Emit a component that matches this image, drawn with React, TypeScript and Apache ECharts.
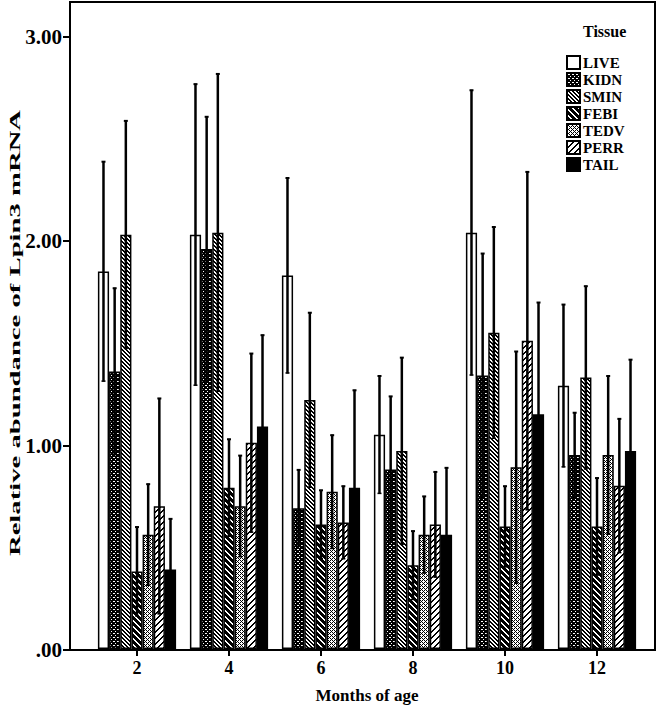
import React, { useEffect, useRef } from 'react';
import * as echarts from 'echarts';

const months = ['2', '4', '6', '8', '10', '12'];
const tissues = ['LIVE', 'KIDN', 'SMIN', 'FEBI', 'TEDV', 'PERR', 'TAIL'];

const liveMean = [1.85, 2.03, 1.83, 1.05, 2.04, 1.29];
const liveErr = [0.54, 0.74, 0.48, 0.29, 0.70, 0.40];
const kidnMean = [1.36, 1.96, 0.69, 0.88, 1.34, 0.95];
const kidnErr = [0.41, 0.65, 0.19, 0.36, 0.60, 0.21];
const sminMean = [2.03, 2.04, 1.22, 0.97, 1.55, 1.33];
const sminErr = [0.56, 0.78, 0.43, 0.46, 0.52, 0.45];
const febiMean = [0.38, 0.79, 0.61, 0.41, 0.60, 0.60];
const febiErr = [0.22, 0.24, 0.17, 0.17, 0.20, 0.24];
const tedvMean = [0.56, 0.70, 0.77, 0.56, 0.89, 0.95];
const tedvErr = [0.25, 0.25, 0.28, 0.19, 0.57, 0.39];
const perrMean = [0.70, 1.01, 0.62, 0.61, 1.51, 0.80];
const perrErr = [0.53, 0.44, 0.18, 0.26, 0.83, 0.33];
const tailMean = [0.39, 1.09, 0.79, 0.56, 1.15, 0.97];
const tailErr = [0.25, 0.45, 0.48, 0.33, 0.55, 0.45];

const yTicks = [0, 1, 2, 3];
const yTitle = 'Relative abundance of Lpin3 mRNA';
const xTitle = 'Months of age';
const legendTitle = 'Tissue';

const means = [liveMean, kidnMean, sminMean, febiMean, tedvMean, perrMean, tailMean];
const errs = [liveErr, kidnErr, sminErr, febiErr, tedvErr, perrErr, tailErr];

const FONT = 'Liberation Serif';
const CAT_GAP = 0.15;

function tile(size: number, on: (x: number, y: number) => boolean): any {
  const c = document.createElement('canvas');
  c.width = size;
  c.height = size;
  const ctx = c.getContext('2d')!;
  ctx.fillStyle = '#ffffff';
  ctx.fillRect(0, 0, size, size);
  ctx.fillStyle = '#000000';
  for (let y = 0; y < size; y++) {
    for (let x = 0; x < size; x++) {
      if (on(x, y)) ctx.fillRect(x, y, 1, 1);
    }
  }
  return { image: c, repeat: 'repeat' };
}

function fills(): any[] {
  const mod = (a: number, n: number) => ((a % n) + n) % n;
  return [
    '#ffffff',
    tile(4, (x, y) => !((x === 1 || x === 2) && y === 1) && !(x === 3 && y === 3)),
    tile(4, (x, y) => mod(x - y, 4) < 2),
    tile(6, (x, y) => mod(x - y, 6) < 4),
    tile(4, (x, y) => (x % 2 === 0 && y % 2 === 0) || (x % 4 === 1 && y % 4 === 1) || (x % 4 === 3 && y % 4 === 3)),
    tile(6, (x, y) => mod(x + y, 6) < 2),
    '#000000',
  ];
}

export default function App() {
  const ref = useRef<HTMLDivElement>(null);

  useEffect(() => {
    if (!ref.current) return;
    const chart = echarts.init(ref.current, undefined, { renderer: 'svg' });
    const f = fills();

    const barSeries = tissues.map((name, s) => ({
      type: 'bar',
      name,
      xAxisIndex: 1,
      yAxisIndex: 1,
      data: means[s],
      barGap: '0%',
      barCategoryGap: CAT_GAP * 100 + '%',
      itemStyle: { color: f[s], borderColor: '#000', borderWidth: 1.5 },
      emphasis: { disabled: true },
      z: 2,
    }));

    const errSeries = tissues.map((name, s) => ({
      type: 'custom',
      name: name + ' error',
      xAxisIndex: 1,
      yAxisIndex: 1,
      z: 5,
      silent: true,
      data: months.map((_, i) => [i, means[s][i], errs[s][i]]),
      renderItem: (params: any, api: any) => {
        const ci = api.value(0);
        const m = api.value(1);
        const e = api.value(2);
        const band = api.size([1, 0])[0];
        const bw = (band * (1 - CAT_GAP)) / tissues.length;
        const off = (s - (tissues.length - 1) / 2) * bw;
        const top = api.coord([ci, m + e]);
        const bot = api.coord([ci, m - e]);
        const x = top[0] + off;
        return {
          type: 'group',
          children: [
            { type: 'line', shape: { x1: x, y1: top[1], x2: x, y2: bot[1] }, style: { stroke: '#000', lineWidth: 2.5 } },
            { type: 'line', shape: { x1: x - 2, y1: top[1] + 0.5, x2: x + 2, y2: top[1] + 0.5 }, style: { stroke: '#000', lineWidth: 2 } },
            { type: 'line', shape: { x1: x - 2, y1: bot[1] - 0.5, x2: x + 2, y2: bot[1] - 0.5 }, style: { stroke: '#000', lineWidth: 1.5 } },
          ],
        };
      },
    }));

    const option: any = {
      animation: false,
      backgroundColor: '#ffffff',
      title: {
        text: legendTitle,
        left: 583,
        top: 23,
        padding: 0,
        textStyle: { fontFamily: FONT, fontWeight: 'bold', fontSize: 16, color: '#000' },
      },
      legend: {
        orient: 'vertical',
        left: 566,
        top: 55,
        padding: 0,
        itemWidth: 13,
        itemHeight: 13,
        itemGap: 2,
        icon: 'rect',
        selectedMode: false,
        data: tissues,
        textStyle: { fontFamily: FONT, fontWeight: 'bold', fontSize: 15, lineHeight: 15, color: '#000', padding: [0, 0, 0, -2] },
      },
      graphic: [
        {
          type: 'text',
          x: 15,
          y: 333,
          rotation: Math.PI / 2,
          scaleX: 2.05,
          scaleY: 1,
          style: {
            text: yTitle,
            fontFamily: FONT,
            fontWeight: 'bold',
            fontSize: 14,
            fill: '#000',
            align: 'center',
            verticalAlign: 'middle',
          },
        },
      ],
      grid: [
        { left: 70, right: 11, top: 2, bottom: 59, show: true, borderColor: '#000', borderWidth: 2, backgroundColor: 'transparent' },
        { left: 91, right: 23, top: 2, bottom: 59 },
      ],
      xAxis: [
        { type: 'value', gridIndex: 0, show: false, min: 0, max: 1 },
        {
          type: 'category',
          gridIndex: 1,
          data: months,
          axisLine: { show: false },
          axisTick: { show: true, alignWithLabel: true, length: 7, lineStyle: { color: '#000', width: 2 } },
          axisLabel: { fontFamily: FONT, fontWeight: 'bold', fontSize: 18, color: '#000', margin: 10 },
          name: xTitle,
          nameLocation: 'middle',
          nameGap: 38,
          nameTextStyle: { fontFamily: FONT, fontWeight: 'bold', fontSize: 17, color: '#000' },
        },
      ],
      yAxis: [
        {
          type: 'value',
          gridIndex: 0,
          min: 0,
          max: 3.17,
          interval: 1,
          splitLine: { show: false },
          axisLine: { show: true, lineStyle: { color: '#000', width: 2 } },
          axisTick: { show: true, length: 7, lineStyle: { color: '#000', width: 2 }, customValues: yTicks },
          axisLabel: {
            fontFamily: FONT,
            fontWeight: 'bold',
            fontSize: 21,
            color: '#000',
            margin: 8,
            customValues: yTicks,
            formatter: (v: number) => (v === 0 ? '.00' : v.toFixed(2)),
          },
        },
        { type: 'value', gridIndex: 1, min: 0, max: 3.17, show: false },
      ],
      series: [...barSeries, ...errSeries],
    };
    chart.setOption(option);
    return () => chart.dispose();
  }, []);

  return (
    <div
      ref={ref}
      style={{ position: 'fixed', left: 0, top: 0, width: 666, height: 709, background: '#fff' }}
    />
  );
}
